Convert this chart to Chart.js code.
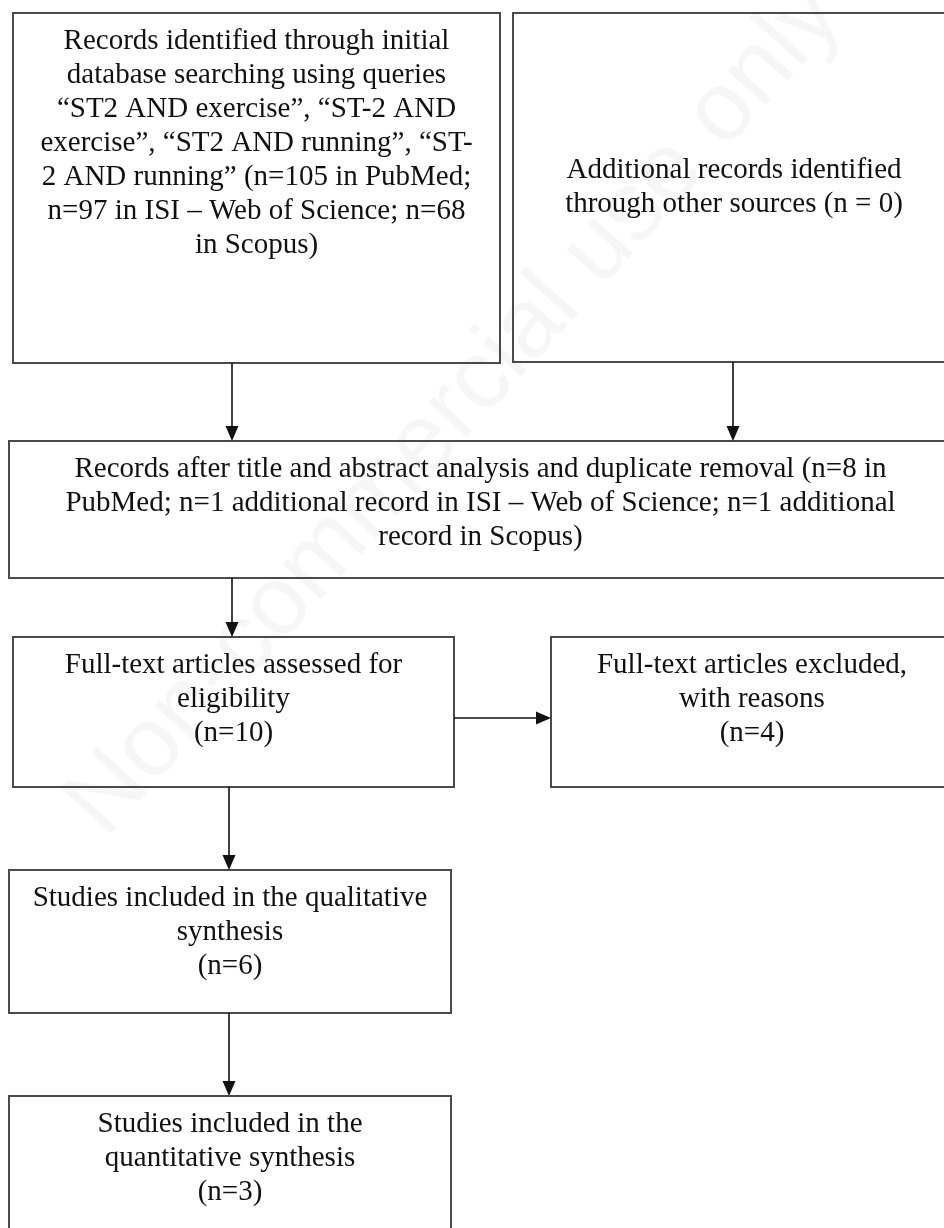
<!DOCTYPE html>
<html>
<head>
<meta charset="utf-8">
<title>Flow diagram</title>
<script src="https://cdn.jsdelivr.net/npm/chart.js@4.4.1/dist/chart.umd.min.js"></script>
<style>
  html, body { margin: 0; padding: 0; background: #ffffff; }
  #wrap { width: 944px; height: 1228px; }
</style>
</head>
<body>
<div id="wrap"><canvas id="flow" width="944" height="1228"></canvas></div>
<script>
// Box texts, one list of lines per box
const boxTexts = [
    ['Records identified through initial', 'database searching using queries', '\u201CST2 AND exercise\u201D, \u201CST-2 AND',
     'exercise\u201D, \u201CST2 AND running\u201D, \u201CST-', '2 AND running\u201D (n=105 in PubMed;',
     'n=97 in ISI \u2013 Web of Science; n=68', 'in Scopus)'],
    ['Additional records identified', 'through other sources (n = 0)'],
    ['Records after title and abstract analysis and duplicate removal (n=8 in',
     'PubMed; n=1 additional record in ISI \u2013 Web of Science; n=1 additional', 'record in Scopus)'],
    ['Full-text articles assessed for', 'eligibility', '(n=10)'],
    ['Full-text articles excluded,', 'with reasons', '(n=4)'],
    ['Studies included in the qualitative', 'synthesis', '(n=6)'],
    ['Studies included in the', 'quantitative synthesis', '(n=3)']
];
// Box extents in diagram units (x to the right, y downwards)
const boxLeft   = [13, 513, 9, 13, 551, 9, 9];
const boxRight  = [500, 955, 952, 454, 953, 451, 451];
const boxTop    = [13, 13, 441, 637, 637, 870, 1096];
const boxBottom = [363, 362, 578, 787, 787, 1013, 1245];
const boxCentred = [false, true, false, false, false, false, false];

// Arrows: from (x1, y1) to (x2, y2)
const arrowX1 = [232, 733, 232, 454, 229, 229];
const arrowY1 = [363, 362, 578, 718, 787, 1013];
const arrowX2 = [232, 733, 232, 551, 229, 229];
const arrowY2 = [441, 441, 637, 718, 870, 1096];

const watermark = 'Non-commercial use only';

const flowPlugin = {
    id: 'flowBoxes',
    beforeDatasetsDraw(chart) {
        const ctx = chart.ctx;
        const sx = chart.scales.x;
        const sy = chart.scales.y;
        const px = v => sx.getPixelForValue(v);
        const py = v => sy.getPixelForValue(v);

        // faint diagonal watermark
        ctx.save();
        ctx.translate(px(455), py(410));
        ctx.rotate(-48 * Math.PI / 180);
        ctx.font = '98px "Liberation Sans", Arial, sans-serif';
        ctx.fillStyle = 'rgba(0, 0, 0, 0.035)';
        ctx.textAlign = 'center';
        ctx.textBaseline = 'middle';
        ctx.fillText(watermark, 0, 0);
        ctx.restore();

        // boxes
        ctx.save();
        ctx.strokeStyle = '#4a4a4a';
        ctx.lineWidth = 2;
        for (let i = 0; i < boxTexts.length; i++) {
            const x0 = px(boxLeft[i]), x1 = px(boxRight[i]);
            const y0 = py(boxTop[i]), y1 = py(boxBottom[i]);
            ctx.strokeRect(x0, y0, x1 - x0, y1 - y0);

            const lines = boxTexts[i];
            const lineH = 34;
            const cx = (x0 + x1) / 2;
            let firstY = y0 + 28;
            if (boxCentred[i]) {
                firstY = (y0 + y1) / 2 - (lines.length - 1) * lineH / 2;
            }
            ctx.fillStyle = '#111111';
            ctx.font = '29px "Liberation Serif", "Times New Roman", serif';
            ctx.textAlign = 'center';
            ctx.textBaseline = 'middle';
            lines.forEach((line, k) => ctx.fillText(line, cx, firstY + k * lineH));
        }
        ctx.restore();

        // arrows
        ctx.save();
        ctx.strokeStyle = '#111111';
        ctx.fillStyle = '#111111';
        ctx.lineWidth = 1.6;
        for (let i = 0; i < arrowX1.length; i++) {
            const ax = px(arrowX1[i]), ay = py(arrowY1[i]);
            const bx = px(arrowX2[i]), by = py(arrowY2[i]);
            const ang = Math.atan2(by - ay, bx - ax);
            const headL = 15, headW = 6.5;
            ctx.beginPath();
            ctx.moveTo(ax, ay);
            ctx.lineTo(bx - headL * Math.cos(ang), by - headL * Math.sin(ang));
            ctx.stroke();
            ctx.beginPath();
            ctx.moveTo(bx, by);
            ctx.lineTo(bx - headL * Math.cos(ang) - headW * Math.sin(ang), by - headL * Math.sin(ang) + headW * Math.cos(ang));
            ctx.lineTo(bx - headL * Math.cos(ang) + headW * Math.sin(ang), by - headL * Math.sin(ang) - headW * Math.cos(ang));
            ctx.closePath();
            ctx.fill();
        }
        ctx.restore();
    }
};

new Chart(document.getElementById('flow').getContext('2d'), {
    type: 'scatter',
    data: { datasets: [] },
    options: {
        responsive: false,
        devicePixelRatio: 1,
        animation: false,
        layout: { padding: 0 },
        plugins: { legend: { display: false }, tooltip: { enabled: false } },
        scales: {
            x: { type: 'linear', min: 0, max: 944, display: false },
            y: { type: 'linear', min: 0, max: 1228, reverse: true, display: false }
        }
    },
    plugins: [flowPlugin]
});
</script>
</body>
</html>
